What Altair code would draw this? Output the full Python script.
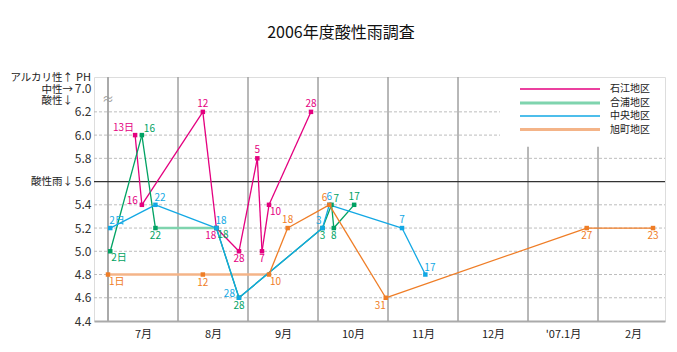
import altair as alt
import pandas as pd

# ---------------- data ----------------
title_text = "2006年度酸性雨調査"
month_labels = ["7月", "8月", "9月", "10月", "11月", "12月", "'07.1月", "2月"]
days_in_month = [31, 31, 30, 31, 30, 31, 31, 28]

series_names = ["石江地区", "合浦地区", "中央地区", "旭町地区"]
series_colors = ["#e4007f", "#00a263", "#12a8e4", "#ef7d26"]
faint_colors = ["#e4007f", "#7fd4ae", "#12a8e4", "#f4b488"]

# 石江地区
ishie_month = [0, 0, 1, 1, 1, 2, 2, 2, 2]
ishie_day = [13, 16, 12, 18, 28, 5, 7, 10, 28]
ishie_ph = [6.0, 5.4, 6.2, 5.2, 5.0, 5.8, 5.0, 5.4, 6.2]
ishie_label = ["13日", "16", "12", "18", "28", "5", "7", "10", "28"]
ishie_pos = ["tl", "l", "t", "bl", "b", "t", "b", "br", "t"]
ishie_faint = []

# 合浦地区
gouura_month = [0, 0, 0, 1, 1, 3, 3, 3, 3]
gouura_day = [2, 16, 22, 18, 28, 3, 7, 8, 17]
gouura_ph = [5.0, 6.0, 5.2, 5.2, 4.6, 5.2, 5.4, 5.2, 5.4]
gouura_label = ["2日", "16", "22", "18", "28", "3", "7", "8", "17"]
gouura_pos = ["br", "r", "b", "br", "b", "b", "r", "b", "t"]
gouura_faint = [2]

# 中央地区
chuo_month = [0, 0, 1, 1, 3, 3, 4, 4]
chuo_day = [2, 22, 18, 28, 3, 6, 7, 17]
chuo_ph = [5.2, 5.4, 5.2, 4.6, 5.2, 5.4, 5.2, 4.8]
chuo_label = ["2日", "22", "18", "28", "3", "6", "7", "17"]
chuo_pos = ["tr", "tr", "tr", "l", "tl", "t", "t", "tr"]
chuo_faint = []

# 旭町地区
asahi_month = [0, 1, 2, 2, 3, 3, 6, 7]
asahi_day = [1, 12, 10, 18, 6, 31, 27, 23]
asahi_ph = [4.8, 4.8, 4.8, 5.2, 5.4, 4.6, 5.2, 5.2]
asahi_label = ["1日", "12", "10", "18", "6", "31", "27", "23"]
asahi_pos = ["br", "b", "br", "t", "tll", "bl", "b", "b"]
asahi_faint = [0, 1]

y_ticks = [4.4, 4.6, 4.8, 5.0, 5.2, 5.4, 5.6, 5.8, 6.0, 6.2, 6.4]
grid_full = [4.6, 4.8, 5.0, 5.2, 5.4, 5.8]
grid_short = [6.0, 6.2]
acid_line = 5.6

# ---------------- tables ----------------
series_data = [
    (series_names[0], ishie_month, ishie_day, ishie_ph, ishie_label, ishie_pos, ishie_faint),
    (series_names[1], gouura_month, gouura_day, gouura_ph, gouura_label, gouura_pos, gouura_faint),
    (series_names[2], chuo_month, chuo_day, chuo_ph, chuo_label, chuo_pos, chuo_faint),
    (series_names[3], asahi_month, asahi_day, asahi_ph, asahi_label, asahi_pos, asahi_faint),
]

pts, segs = [], []
for name, mo, dy, ph, lab, pos, faint in series_data:
    xs = [m + (d - 1) / days_in_month[m] for m, d in zip(mo, dy)]
    for i in range(len(xs)):
        pts.append({"series": name, "x": xs[i], "ph": ph[i], "label": lab[i], "pos": pos[i]})
    for i in range(len(xs) - 1):
        segs.append({"series": name, "x": xs[i], "y": ph[i], "x2": xs[i + 1], "y2": ph[i + 1],
                     "faint": i in faint})
pts_df = pd.DataFrame(pts)
segs_df = pd.DataFrame(segs)

XMIN, XMAX = -0.2, 7.957
YMIN, YMAX = 4.4, 6.5
xs_ = alt.Scale(domain=[XMIN, XMAX], nice=False, zero=False)
ys_ = alt.Scale(domain=[YMIN, YMAX], nice=False, zero=False)
cs_ = alt.Scale(domain=series_names, range=series_colors)
cf_ = alt.Scale(domain=series_names, range=faint_colors)
FONT = "Noto Sans CJK JP"

x_axis = alt.Axis(values=[i + 0.5 for i in range(len(month_labels))],
                  labelExpr="[" + ",".join("'" + m.replace("'", "\\'") + "'" for m in month_labels)
                  + "][floor(datum.value)]",
                  title=None, domainColor="#aaaaaa", domainWidth=2, ticks=False, grid=False,
                  labelFontSize=11, labelColor="#222222", labelPadding=7, labelFont=FONT)
y_axis = alt.Axis(values=y_ticks,
                  labelExpr="datum.value > 6.3 ? '7.0' : format(datum.value, '.1f')",
                  title=None, domain=False, ticks=False, grid=False, labelFontSize=12,
                  labelColor="#333333", labelPadding=3, labelFont=FONT)


def X(field):
    return alt.X(field, scale=xs_, axis=x_axis)


def Y(field):
    return alt.Y(field, scale=ys_, axis=y_axis)


grid_df = pd.DataFrame(
    [{"y": g, "x0": XMIN, "x1": XMAX} for g in grid_full]
    + [{"y": g, "x0": XMIN, "x1": 5.6} for g in grid_short]
)
sep_df = pd.DataFrame(
    [{"x": m, "y0": YMIN, "y1": YMAX} for m in range(1, 6)]
    + [{"x": m, "y0": YMIN, "y1": 5.9} for m in range(6, 8)]
)

grid = alt.Chart(grid_df).mark_rule(color="#bdbdbd", strokeDash=[3, 2], strokeWidth=1).encode(
    x=X("x0:Q"), x2="x1", y=Y("y:Q"))
seps = alt.Chart(sep_df).mark_rule(color="#a0a0a0", strokeWidth=1.5).encode(
    x=X("x:Q"), y=Y("y0:Q"), y2="y1")
vaxis = alt.Chart(pd.DataFrame({"x": [0.0], "y0": [YMIN], "y1": [YMAX]})).mark_rule(
    color="#aaaaaa", strokeWidth=2).encode(x=X("x:Q"), y=Y("y0:Q"), y2="y1")
acid = alt.Chart(pd.DataFrame({"y": [acid_line], "x0": [XMIN], "x1": [XMAX]})).mark_rule(
    color="#333333", strokeWidth=1.2).encode(x=X("x0:Q"), x2="x1", y=Y("y:Q"))
brk = alt.Chart(pd.DataFrame({"x": [0.0], "y": [6.3], "t": ["≈"]})).mark_text(
    color="#999999", fontSize=12, font=FONT, baseline="middle").encode(
    x=X("x:Q"), y=Y("y:Q"), text="t:N")

faint_lines = alt.Chart(segs_df).transform_filter("datum.faint").mark_rule(strokeWidth=2.6).encode(
    x=X("x:Q"), x2="x2", y=Y("y:Q"), y2="y2",
    color=alt.Color("series:N", scale=cf_, legend=None))
lines = alt.Chart(segs_df).transform_filter("!datum.faint").mark_rule(strokeWidth=1.3).encode(
    x=X("x:Q"), x2="x2", y=Y("y:Q"), y2="y2",
    color=alt.Color("series:N", scale=cs_, legend=None))

points = alt.Chart(pts_df).mark_square(size=20, opacity=1).encode(
    x=X("x:Q"), y=Y("ph:Q"),
    color=alt.Color("series:N", scale=cs_, legend=None))

pos_style = {
    "t": dict(align="center", dx=0, dy=-8),
    "b": dict(align="center", dx=0, dy=8),
    "tl": dict(align="right", dx=-1, dy=-7),
    "tll": dict(align="right", dx=-2, dy=-7),
    "tr": dict(align="left", dx=-1, dy=-7),
    "r": dict(align="left", dx=2, dy=-6),
    "bl": dict(align="right", dx=0, dy=8),
    "br": dict(align="left", dx=1, dy=7),
    "l": dict(align="right", dx=-4, dy=-4),
}
label_layers = []
for code, st in pos_style.items():
    label_layers.append(
        alt.Chart(pts_df).transform_filter(alt.datum.pos == code).mark_text(
            fontSize=10, font=FONT, baseline="middle", **st).encode(
            x=X("x:Q"), y=Y("ph:Q"),
            text="label:N", color=alt.Color("series:N", scale=cs_, legend=None)))

left_df = pd.DataFrame({
    "t": ["アルカリ性↑", "中性→", "酸性↓", "酸性雨↓"],
    "y": [6.489, 6.385, 6.29, 5.6],
})
left_labels = alt.Chart(left_df).mark_text(
    align="right", baseline="middle", fontSize=10.5, font=FONT, color="#222222",
    lineHeight=10).encode(
    x=alt.value(-21), y=Y("y:Q"), text="t:N")
ph_label = alt.Chart(pd.DataFrame({"t": ["PH"], "y": [6.489]})).mark_text(
    align="right", baseline="middle", fontSize=11, font=FONT, color="#222222").encode(
    x=alt.value(-3), y=Y("y:Q"), text="t:N")

title = alt.Chart(pd.DataFrame({"t": [title_text]})).mark_text(
    align="center", baseline="middle", fontSize=16, font=FONT, color="#111111").encode(
    x=alt.value(247), y=alt.value(-44), text="t:N")

legend_layers = []
leg_y = [12, 26, 39, 52.5]
leg_w = [1.5, 3, 1.5, 3]
for i, name in enumerate(series_names):
    legend_layers.append(
        alt.Chart(pd.DataFrame({"s": [name]})).mark_rule(
            color=faint_colors[i], strokeWidth=leg_w[i]).encode(
            x=alt.value(426), x2=alt.value(506), y=alt.value(leg_y[i])))
    legend_layers.append(
        alt.Chart(pd.DataFrame({"s": [name]})).mark_text(
            align="left", baseline="middle", fontSize=10, font=FONT, color="#222222").encode(
            x=alt.value(516), y=alt.value(leg_y[i]), text="s:N"))

chart = alt.layer(
    grid, seps, vaxis, acid, brk, faint_lines, lines, points,
    *label_layers, left_labels, ph_label, title, *legend_layers
).resolve_scale(color="independent").properties(
    width=571, height=244,
    autosize=alt.AutoSizeParams(type="none"),
    padding={"left": 94, "top": 77, "right": 12, "bottom": 31},
).configure_view(stroke=None).configure(background="white")

chart.save("out.html", embed_options={"renderer": "svg", "actions": False})
